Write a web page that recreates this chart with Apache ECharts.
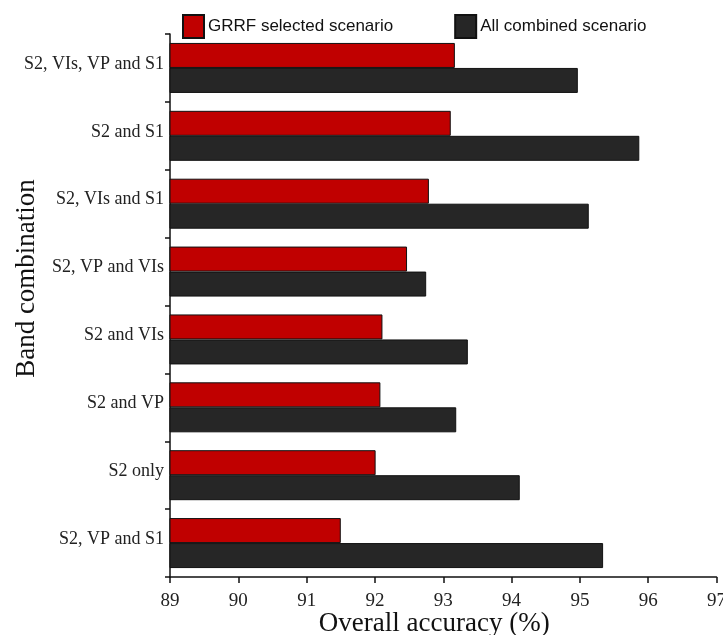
<!DOCTYPE html>
<html>
<head>
<meta charset="utf-8">
<script src="https://cdn.jsdelivr.net/npm/echarts@6/dist/echarts.min.js"></script>
<style>
  html, body { margin: 0; padding: 0; background: #fff; }
  #chart { width: 723px; height: 635px; }
</style>
</head>
<body>
<div id="chart"></div>
<script>
// Band combinations, listed top to bottom
const categories = [
  'S2, VIs, VP and S1',
  'S2 and S1',
  'S2, VIs and S1',
  'S2, VP and VIs',
  'S2 and VIs',
  'S2 and VP',
  'S2 only',
  'S2, VP and S1'
];

// Overall accuracy (%) per scenario
const grrfSelected = [93.17, 93.11, 92.79, 92.47, 92.11, 92.08, 92.01, 91.50];
const allCombined  = [94.97, 95.87, 95.13, 92.75, 93.36, 93.19, 94.12, 95.34];

const seriesNames = ['GRRF selected scenario', 'All combined scenario'];
const xTicks = { min: 89, max: 97, step: 1 };

const serif = '"Liberation Serif", "Times New Roman", serif';
const sans = '"Liberation Sans", Arial, sans-serif';

const chart = echarts.init(document.getElementById('chart'), null, { renderer: 'canvas' });

chart.setOption({
  animation: false,
  backgroundColor: '#ffffff',
  legend: {
    left: 177,
    top: 9,
    itemWidth: 21,
    itemHeight: 23,
    itemGap: 61,
    icon: 'rect',
    textStyle: { fontFamily: sans, fontSize: 17, color: '#111', padding: [0, 0, 0, -1] },
    data: seriesNames
  },
  grid: {
    left: 170, right: 6.5, top: 34, bottom: 58,
    containLabel: false,
    outerBoundsMode: 'none'
  },
  xAxis: {
    type: 'value',
    min: xTicks.min,
    max: xTicks.max,
    interval: xTicks.step,
    name: 'Overall accuracy (%)',
    nameLocation: 'middle',
    nameGap: 33,
    nameMoveOverlap: false,
    nameTextStyle: { fontFamily: serif, fontSize: 27, color: '#111', padding: [0, 18, 0, 0] },
    axisLine: { show: true, lineStyle: { color: '#111', width: 1.5 } },
    axisTick: { show: true, length: 6, lineStyle: { color: '#111', width: 1.5 } },
    axisLabel: { fontFamily: serif, fontSize: 19, color: '#222', margin: 15 },
    splitLine: { show: false }
  },
  yAxis: {
    type: 'category',
    inverse: true,
    data: categories,
    name: 'Band combination',
    nameLocation: 'middle',
    nameGap: 130,
    nameMoveOverlap: false,
    nameTextStyle: { fontFamily: serif, fontSize: 27, color: '#111', padding: [0, 0, 0, 54] },
    axisLine: { show: true, lineStyle: { color: '#111', width: 1.5 } },
    axisTick: { show: true, length: 5, lineStyle: { color: '#111', width: 1.5 } },
    axisLabel: {
      fontFamily: serif, fontSize: 18, color: '#222', margin: 6,
      verticalAlign: 'bottom', lineHeight: 8
    },
    splitLine: { show: false }
  },
  series: [
    {
      name: seriesNames[0],
      type: 'bar',
      data: grrfSelected,
      barWidth: 25,
      barGap: '0%',
      itemStyle: { color: '#c00000', borderColor: '#111', borderWidth: 1 }
    },
    {
      name: seriesNames[1],
      type: 'bar',
      data: allCombined,
      barWidth: 25,
      barGap: '0%',
      itemStyle: { color: '#262626', borderColor: '#111', borderWidth: 1 }
    }
  ]
});
</script>
</body>
</html>
